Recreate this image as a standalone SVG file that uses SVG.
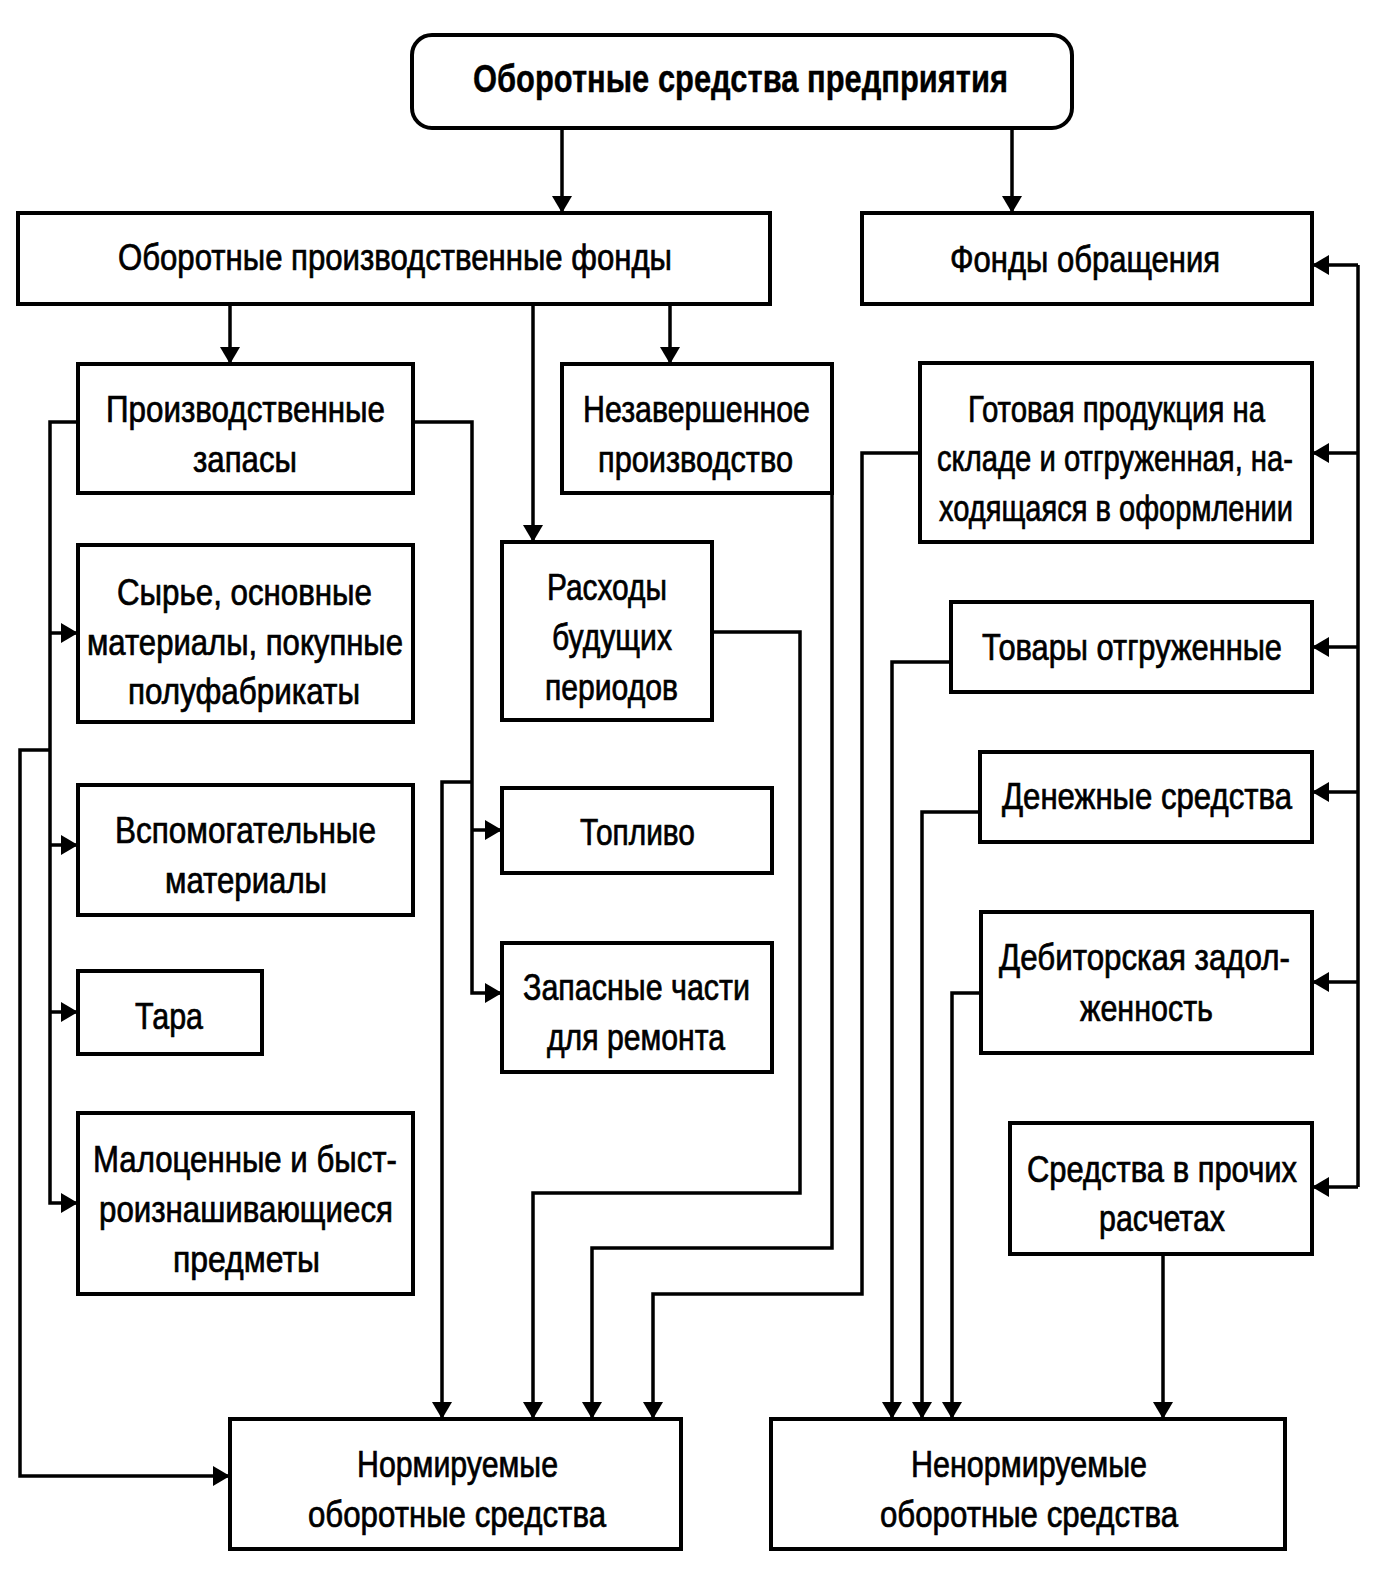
<svg xmlns="http://www.w3.org/2000/svg" width="1399" height="1584" viewBox="0 0 1399 1584">
<defs>
<style>
.box{fill:#fff;stroke:#000;stroke-width:4}
.c{fill:none;stroke:#000;stroke-width:3.5}
.a{fill:none;stroke:#000;stroke-width:3.5;marker-end:url(#arr)}
text{font-family:"Liberation Sans",Arial,sans-serif;font-size:36px;fill:#000;stroke:#000;stroke-width:0.7}
.t{font-weight:bold;font-size:38px;stroke-width:0.4}
</style>
<marker id="arr" markerUnits="userSpaceOnUse" markerWidth="18" markerHeight="20" refX="17" refY="10" orient="auto">
<path d="M0,0 L17,10 L0,20 z" fill="#000"/>
</marker>
</defs>
<rect width="1399" height="1584" fill="#fff"/>
<g id="n-top"><rect class="box" x="412" y="35" width="660" height="93" rx="20"/><text class="t" x="473" y="92" textLength="535" lengthAdjust="spacingAndGlyphs">Оборотные средства предприятия</text></g>
<g id="n-opf"><rect class="box" x="18" y="213" width="752" height="91"/><text x="118" y="270" textLength="554" lengthAdjust="spacingAndGlyphs">Оборотные производственные фонды</text></g>
<g id="n-fo"><rect class="box" x="862" y="213" width="450" height="91"/><text x="950" y="272" textLength="270" lengthAdjust="spacingAndGlyphs">Фонды обращения</text></g>
<g id="n-pz"><rect class="box" x="78" y="364" width="335" height="129"/><text x="106" y="422" textLength="279" lengthAdjust="spacingAndGlyphs">Производственные</text><text x="193" y="472" textLength="104" lengthAdjust="spacingAndGlyphs">запасы</text></g>
<g id="n-np"><rect class="box" x="562" y="364" width="270" height="129"/><text x="583" y="422" textLength="227" lengthAdjust="spacingAndGlyphs">Незавершенное</text><text x="598" y="472" textLength="195" lengthAdjust="spacingAndGlyphs">производство</text></g>
<g id="n-gp"><rect class="box" x="920" y="363" width="392" height="179"/><text x="968" y="422" textLength="297" lengthAdjust="spacingAndGlyphs">Готовая продукция на</text><text x="937" y="471" textLength="356" lengthAdjust="spacingAndGlyphs">складе и отгруженная, на-</text><text x="939" y="521" textLength="354" lengthAdjust="spacingAndGlyphs">ходящаяся в оформлении</text></g>
<g id="n-sm"><rect class="box" x="78" y="545" width="335" height="177"/><text x="117" y="605" textLength="255" lengthAdjust="spacingAndGlyphs">Сырье, основные</text><text x="87" y="655" textLength="316" lengthAdjust="spacingAndGlyphs">материалы, покупные</text><text x="128" y="704" textLength="232" lengthAdjust="spacingAndGlyphs">полуфабрикаты</text></g>
<g id="n-rbp"><rect class="box" x="502" y="542" width="210" height="178"/><text x="547" y="600" textLength="120" lengthAdjust="spacingAndGlyphs">Расходы</text><text x="552" y="650" textLength="120" lengthAdjust="spacingAndGlyphs">будущих</text><text x="545" y="700" textLength="133" lengthAdjust="spacingAndGlyphs">периодов</text></g>
<g id="n-to"><rect class="box" x="951" y="602" width="361" height="90"/><text x="982" y="660" textLength="300" lengthAdjust="spacingAndGlyphs">Товары отгруженные</text></g>
<g id="n-vm"><rect class="box" x="78" y="785" width="335" height="130"/><text x="115" y="843" textLength="261" lengthAdjust="spacingAndGlyphs">Вспомогательные</text><text x="165" y="893" textLength="162" lengthAdjust="spacingAndGlyphs">материалы</text></g>
<g id="n-tp"><rect class="box" x="502" y="788" width="270" height="85"/><text x="580" y="845" textLength="115" lengthAdjust="spacingAndGlyphs">Топливо</text></g>
<g id="n-ds"><rect class="box" x="980" y="752" width="332" height="90"/><text x="1002" y="809" textLength="290" lengthAdjust="spacingAndGlyphs">Денежные средства</text></g>
<g id="n-tara"><rect class="box" x="78" y="971" width="184" height="83"/><text x="135" y="1029" textLength="68" lengthAdjust="spacingAndGlyphs">Тара</text></g>
<g id="n-zch"><rect class="box" x="502" y="943" width="270" height="129"/><text x="523" y="1000" textLength="227" lengthAdjust="spacingAndGlyphs">Запасные части</text><text x="547" y="1050" textLength="178" lengthAdjust="spacingAndGlyphs">для ремонта</text></g>
<g id="n-dz"><rect class="box" x="981" y="912" width="331" height="141"/><text x="999" y="970" textLength="291" lengthAdjust="spacingAndGlyphs">Дебиторская задол-</text><text x="1080" y="1021" textLength="133" lengthAdjust="spacingAndGlyphs">женность</text></g>
<g id="n-mb"><rect class="box" x="78" y="1113" width="335" height="181"/><text x="93" y="1172" textLength="304" lengthAdjust="spacingAndGlyphs">Малоценные и быст-</text><text x="99" y="1222" textLength="294" lengthAdjust="spacingAndGlyphs">роизнашивающиеся</text><text x="173" y="1272" textLength="147" lengthAdjust="spacingAndGlyphs">предметы</text></g>
<g id="n-sp"><rect class="box" x="1010" y="1123" width="302" height="131"/><text x="1027" y="1182" textLength="270" lengthAdjust="spacingAndGlyphs">Средства в прочих</text><text x="1099" y="1231" textLength="126" lengthAdjust="spacingAndGlyphs">расчетах</text></g>
<g id="n-norm"><rect class="box" x="230" y="1419" width="451" height="130"/><text x="357" y="1477" textLength="201" lengthAdjust="spacingAndGlyphs">Нормируемые</text><text x="308" y="1527" textLength="298" lengthAdjust="spacingAndGlyphs">оборотные средства</text></g>
<g id="n-nenorm"><rect class="box" x="771" y="1419" width="514" height="130"/><text x="911" y="1477" textLength="236" lengthAdjust="spacingAndGlyphs">Ненормируемые</text><text x="880" y="1527" textLength="298" lengthAdjust="spacingAndGlyphs">оборотные средства</text></g>
<g id="connectors">
<path class="a" d="M562,128 V213"/>
<path class="a" d="M1012,128 V213"/>
<path class="a" d="M230,304 V364"/>
<path class="a" d="M533,304 V542"/>
<path class="a" d="M670,304 V364"/>
<path class="a" d="M78,422 H50 V1203 H78"/>
<path class="a" d="M50,633 H78"/>
<path class="a" d="M50,845 H78"/>
<path class="a" d="M50,1012 H78"/>
<path class="a" d="M50,750 H20 V1476 H230"/>
<path class="a" d="M413,422 H472 V993 H502"/>
<path class="a" d="M472,830 H502"/>
<path class="a" d="M472,782 H442 V1419"/>
<path class="a" d="M712,632 H800 V1193 H533 V1419"/>
<path class="a" d="M832,493 V1248 H592 V1419"/>
<path class="a" d="M920,453 H862 V1294 H653 V1419"/>
<path class="a" d="M951,662 H892 V1419"/>
<path class="a" d="M980,812 H922 V1419"/>
<path class="a" d="M981,993 H952 V1419"/>
<path class="a" d="M1163,1254 V1419"/>
<path class="c" d="M1358,265 V1187"/>
<path class="a" d="M1358,265 H1312"/>
<path class="a" d="M1358,453 H1312"/>
<path class="a" d="M1358,647 H1312"/>
<path class="a" d="M1358,792 H1312"/>
<path class="a" d="M1358,982 H1312"/>
<path class="a" d="M1358,1187 H1312"/>
</g>
</svg>
